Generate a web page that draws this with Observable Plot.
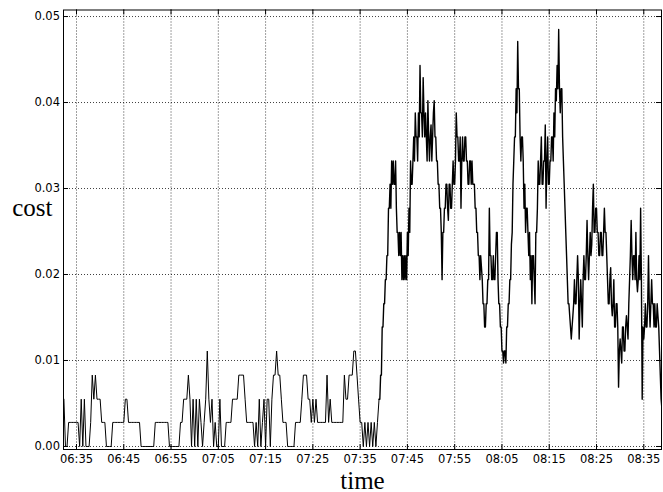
<!DOCTYPE html>
<html><head><meta charset="utf-8">
<script src="https://cdn.jsdelivr.net/npm/d3@7"></script>
<script src="https://cdn.jsdelivr.net/npm/@observablehq/plot@0.6"></script>
<style>html,body{margin:0;padding:0;background:#fff;}</style>
</head><body><div id="chart"></div>
<script>
// Calm part: one value every 20 s starting at 06:32:20
const calmStart = "06:32:20";
const calmStepSeconds = 20;
const calmCosts = [
0.0055,0,0,0.0028,0.0028,0.0028,0.0028,0.0028,0.0028,0.0028,
0,0.0055,0,0.0055,0,0,0,0.0028,0.0083,0.0055,
0.0083,0.0055,0.0055,0.0055,0.0028,0.0028,0.0028,0,0,0,
0,0.0028,0.0028,0.0028,0.0028,0.0028,0.0028,0.0028,0.0028,0.0055,
0.0055,0.0028,0.0028,0.0028,0.0028,0.0028,0.0028,0.0028,0.0028,0,
0,0,0,0,0,0,0,0,0.0028,0.0028,
0.0028,0.0028,0.0028,0.0028,0.0028,0.0028,0.0028,0,0,0,
0,0,0,0,0.0028,0.0028,0.0055,0.0055,0.0055,0.0083,
0.0055,0,0.0055,0,0.0055,0,0.0055,0.0028,0,0.0028,
0.0055,0.0111,0.0055,0.0028,0.0055,0,0.0028,0,0,0.0055,
0,0,0,0.0028,0.0028,0.0028,0.0028,0.0055,0.0055,0.0055,
0.0055,0.0083,0.0083,0.0083,0.0083,0.0055,0.0028,0.0028,0.0028,0.0028,
0.0028,0,0.0028,0,0.0055,0,0.0028,0.0055,0,0.0055,
0.0055,0,0.0055,0.0083,0.0083,0.0111,0.0083,0.0083,0.0055,0.0028,
0.0028,0.0028,0,0,0,0,0,0.0028,0.0028,0.0028,
0.0028,0.0055,0.0083,0.0083,0.0083,0.0055,0.0055,0.0028,0.0055,0.0028,
0.0055,0.0028,0.0028,0.0028,0.0028,0.0028,0.0028,0.0083,0.0028,0.0055,
0.0028,0.0028,0.0028,0.0028,0.0028,0.0028,0.0028,0.0028,0.0083,0.0055,
0.0055,0.0083,0.0083,0.0083,0.0111,0.0111,0.0083,0.0055,0.0028,0.0028,
0,0.0028,0,0.0028,0,0.0028,0,0.0028,0,0.0028
];
// Busy part: one value every 10 s starting at 07:39:00
const busyStart = "07:39:00";
const busyStepSeconds = 10;
const busyCosts = [
0.0055,0.0055,0.0083,0.0083,0.0139,0.0139,0.0166,0.0166,0.0194,0.0194,
0.0222,0.0222,0.0277,0.0277,0.0305,0.0277,0.0332,0.0305,0.0332,0.0305,
0.0305,0.0332,0.0277,0.0249,0.0249,0.0222,0.0249,0.0222,0.0249,0.0194,
0.0222,0.0194,0.0222,0.0194,0.0222,0.0194,0.0249,0.0222,0.0277,0.0249,
0.0332,0.0305,0.0305,0.0332,0.036,0.0332,0.0388,0.036,0.036,0.0332,
0.0388,0.036,0.0443,0.0388,0.0388,0.036,0.0429,0.0388,0.036,0.0388,
0.036,0.0332,0.0402,0.036,0.0332,0.036,0.0374,0.0332,0.036,0.0388,
0.0402,0.036,0.036,0.0332,0.0332,0.0305,0.0305,0.0277,0.0277,0.0249,
0.0194,0.0249,0.0249,0.0277,0.0277,0.0305,0.0305,0.0277,0.0263,0.0305,
0.0305,0.0277,0.0277,0.0305,0.0332,0.0305,0.0305,0.0332,0.0388,0.036,
0.036,0.0332,0.0332,0.036,0.0277,0.0332,0.036,0.0332,0.0332,0.036,
0.036,0.0332,0.0332,0.0305,0.0305,0.0332,0.0332,0.0305,0.0332,0.0305,
0.0305,0.0305,0.0277,0.0277,0.0249,0.0249,0.0222,0.0222,0.0194,0.0222,
0.0208,0.0194,0.0166,0.0166,0.0139,0.0139,0.0166,0.0166,0.0194,0.0194,
0.0277,0.0222,0.0222,0.0194,0.0194,0.0222,0.0194,0.0194,0.0222,0.0249,
0.0249,0.0194,0.0166,0.0166,0.0139,0.0139,0.0111,0.0111,0.0097,0.0111,
0.0111,0.0097,0.0139,0.0139,0.0166,0.0166,0.0194,0.0194,0.0235,0.0249,
0.0305,0.0332,0.036,0.036,0.0416,0.0388,0.0471,0.0416,0.0416,0.036,
0.0332,0.036,0.036,0.0332,0.0277,0.0305,0.0249,0.0277,0.0277,0.0249,
0.0222,0.0249,0.0194,0.0222,0.0166,0.0222,0.0222,0.0194,0.0166,0.0249,
0.0249,0.0277,0.0332,0.0305,0.0305,0.0332,0.036,0.0305,0.0305,0.0332,
0.0332,0.0374,0.0277,0.0332,0.036,0.0305,0.0305,0.0332,0.0332,0.036,
0.036,0.0332,0.0388,0.036,0.0416,0.0402,0.0443,0.0416,0.0485,0.0416,
0.0388,0.0416,0.0416,0.036,0.0332,0.0305,0.0277,0.0249,0.0222,0.0194,
0.0166,0.0166,0.0152,0.0139,0.0125,0.0139,0.0152,0.0166,0.0194,0.0166,
0.0166,0.0194,0.0222,0.0194,0.0125,0.0166,0.0194,0.0166,0.0139,0.0194,
0.0222,0.0194,0.0194,0.0222,0.0263,0.0222,0.0194,0.0222,0.0249,0.0222,
0.0235,0.0277,0.0305,0.0249,0.0249,0.0277,0.0277,0.0249,0.0249,0.0222,
0.0222,0.0249,0.0249,0.0222,0.0222,0.0249,0.0277,0.0249,0.0249,0.0222,
0.0194,0.0166,0.0166,0.0194,0.0208,0.0166,0.0152,0.0166,0.0194,0.0139,
0.0139,0.0166,0.0166,0.0139,0.0069,0.0111,0.0125,0.0111,0.0097,0.0139,
0.0139,0.0111,0.0111,0.0139,0.0152,0.0139,0.0125,0.0166,0.0194,0.0222,
0.0263,0.0222,0.0194,0.0222,0.0222,0.0194,0.0249,0.0194,0.018,0.0194,
0.0222,0.0194,0.0277,0.0194,0.0055,0.0139,0.0125,0.0139,0.0166,0.0139,
0.0139,0.0166,0.0222,0.0166,0.0139,0.0166,0.0194,0.0166,0.0166,0.0139,
0.0166,0.0139,0.0139,0.0166,0.0152,0.0139,0.0111,0.0083,0.0055,0.0044
];
const xTickLabels = ["06:35","06:45","06:55","07:05","07:15","07:25","07:35","07:45","07:55","08:05","08:15","08:25","08:35"];
const yTickValues = [0, 0.01, 0.02, 0.03, 0.04, 0.05];
const xDomainLabels = ["06:32:15", "08:38:45"];
const yDomain = [-0.00035, 0.05076];
const xTitle = "time";
const yTitle = "cost";

function parseTime(s) {
  const [h, m, sec = 0] = s.split(":").map(Number);
  return new Date(Date.UTC(2000, 0, 1, h, m, sec));
}
function series(start, step, values) {
  const t0 = parseTime(start);
  return values.map((c, i) => ({time: new Date(+t0 + i * step * 1000), cost: c}));
}
const calmData = series(calmStart, calmStepSeconds, calmCosts);
const busyData = series(busyStart, busyStepSeconds, busyCosts);
const xTicks = xTickLabels.map(parseTime);

const W = 663, H = 492, mL = 63, mR = 2, mT = 9.5, mB = 43;
const innerH = H - mT - mB, innerW = W - mL - mR;
const tickLen = 5;
const serif = "'Liberation Serif', 'DejaVu Serif', serif";

const chart = Plot.plot({
  width: W, height: H,
  marginLeft: mL, marginRight: mR, marginTop: mT, marginBottom: mB,
  style: {fontFamily: "'DejaVu Sans', sans-serif", fontSize: "11.5px", background: "#fff", color: "#000"},
  x: {type: "utc", domain: xDomainLabels.map(parseTime), label: null},
  y: {domain: yDomain, label: null},
  marks: [
    Plot.ruleX(xTicks, {x: d => d, stroke: "#000", strokeWidth: 1, strokeDasharray: "1,2", strokeOpacity: 0.75}),
    Plot.ruleY(yTickValues, {y: d => d, stroke: "#000", strokeWidth: 1, strokeDasharray: "1,2", strokeOpacity: 0.75}),
    Plot.line(calmData.concat([busyData[0]]), {x: "time", y: "cost", stroke: "#000", strokeWidth: 1, clip: true}),
    Plot.line(busyData, {x: "time", y: "cost", stroke: "#000", strokeWidth: 1.4, clip: true}),
    Plot.frame({stroke: "#000", strokeWidth: 1}),
    Plot.tickX(xTicks, {x: d => d, insetTop: innerH - tickLen, stroke: "#000"}),
    Plot.tickX(xTicks, {x: d => d, insetBottom: innerH - tickLen, stroke: "#000"}),
    Plot.tickY(yTickValues, {y: d => d, insetRight: innerW - tickLen, stroke: "#000"}),
    Plot.tickY(yTickValues, {y: d => d, insetLeft: innerW - tickLen, stroke: "#000"}),
    Plot.axisX(xTicks, {tickSize: 0, tickPadding: 5.5, tickFormat: d3.utcFormat("%H:%M"), label: null}),
    Plot.axisY(yTickValues, {tickSize: 0, tickPadding: 3.5, tickFormat: d3.format(".2f"), label: null}),
    Plot.text([xTitle], {text: d => d, frameAnchor: "bottom", dy: 39, fontSize: 25, fontFamily: serif, fill: "#000"}),
    Plot.text([yTitle], {text: d => d, frameAnchor: "left", textAnchor: "end", dx: -11, dy: -22, fontSize: 25, fontFamily: serif, fill: "#000"})
  ]
});
document.getElementById("chart").appendChild(chart);
</script>
</body></html>
